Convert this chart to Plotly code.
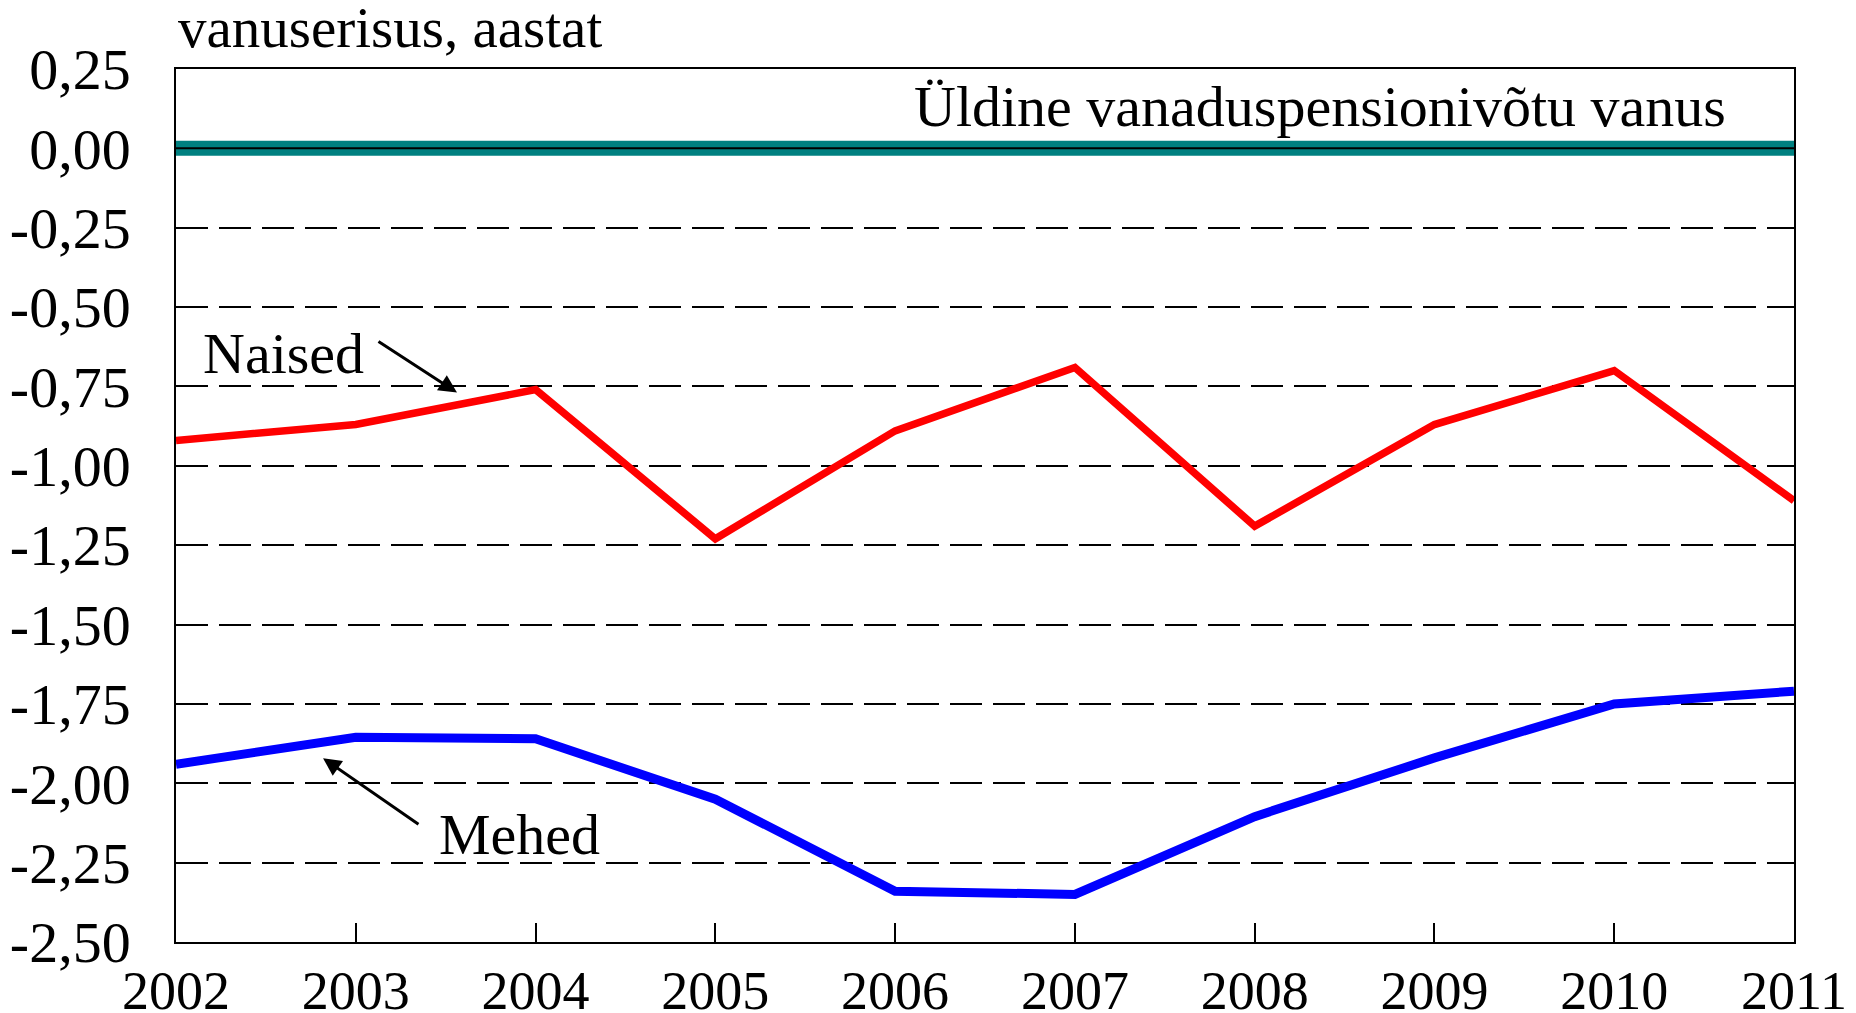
import plotly.graph_objects as go

years = [2002, 2003, 2004, 2005, 2006, 2007, 2008, 2009, 2010, 2011]
naised = [-0.92, -0.87, -0.76, -1.23, -0.89, -0.69, -1.19, -0.87, -0.70, -1.11]
mehed = [-1.94, -1.855, -1.86, -2.05, -2.34, -2.35, -2.105, -1.92, -1.75, -1.71]
yldine = [0.0] * len(years)

y_tickvals = [0.25, 0.0, -0.25, -0.5, -0.75, -1.0, -1.25, -1.5, -1.75, -2.0, -2.25, -2.5]
y_ticktext = ["0,25", "0,00", "-0,25", "-0,50", "-0,75", "-1,00", "-1,25",
              "-1,50", "-1,75", "-2,00", "-2,25", "-2,50"]
x_tickvals = years
x_ticktext = [str(y) for y in years]

FONT = "Liberation Serif, Times New Roman, serif"

fig = go.Figure()
fig.add_trace(go.Scatter(x=years, y=yldine, mode="lines",
                         line=dict(color="#008080", width=15), hoverinfo="skip",
                         showlegend=False))
fig.add_trace(go.Scatter(x=years, y=yldine, mode="lines",
                         line=dict(color="#000000", width=2), hoverinfo="skip",
                         showlegend=False))
fig.add_trace(go.Scatter(x=years, y=naised, mode="lines", name="Naised",
                         line=dict(color="#ff0000", width=7.5), showlegend=False))
fig.add_trace(go.Scatter(x=years, y=mehed, mode="lines", name="Mehed",
                         line=dict(color="#0000ff", width=9), showlegend=False))

annotations = [
    dict(text="vanuserisus, aastat", xref="paper", yref="paper", x=0, y=1,
         xanchor="left", yanchor="bottom", yshift=8, showarrow=False,
         font=dict(size=57, color="black", family=FONT)),
    dict(text="Üldine vanaduspensionivõtu vanus", xref="x", yref="y",
         x=2010.632, y=0.132, xanchor="right", yanchor="middle", showarrow=False,
         font=dict(size=58, color="black", family=FONT)),
    dict(text="Naised", xref="x", yref="y", x=2002.598, y=-0.646,
         xanchor="center", yanchor="middle", showarrow=False,
         font=dict(size=58, color="black", family=FONT)),
    dict(text="Mehed", xref="x", yref="y", x=2003.913, y=-2.16,
         xanchor="center", yanchor="middle", showarrow=False,
         font=dict(size=58, color="black", family=FONT)),
    dict(text="", xref="x", yref="y", x=2003.563, y=-0.769,
         axref="x", ayref="y", ax=2003.118, ay=-0.605, showarrow=True,
         arrowhead=2, arrowsize=1.2, arrowwidth=3, arrowcolor="black"),
    dict(text="", xref="x", yref="y", x=2002.818, y=-1.921,
         axref="x", ayref="y", ax=2003.357, ay=-2.132, showarrow=True,
         arrowhead=2, arrowsize=1.2, arrowwidth=3, arrowcolor="black"),
]

fig.update_layout(
    width=1856, height=1013,
    margin=dict(l=168, r=70, t=61, b=79, autoexpand=False),
    paper_bgcolor="white", plot_bgcolor="white",
    font=dict(family=FONT, color="black"),
    annotations=annotations,
    showlegend=False,
)
fig.update_xaxes(
    range=[2002, 2011], tickvals=x_tickvals, ticktext=x_ticktext,
    ticks="inside", ticklen=19, tickwidth=1.5, tickcolor="black",
    showgrid=False, zeroline=False,
    showline=True, linecolor="black", linewidth=1.5, mirror=True,
    tickfont=dict(size=54, family=FONT, color="black"),
    ticklabelstandoff=0,
)
fig.update_yaxes(
    range=[-2.5, 0.25], tickvals=y_tickvals, ticktext=y_ticktext,
    ticks="", showgrid=True, gridcolor="black", gridwidth=2,
    griddash="32px,11px", zeroline=False,
    showline=True, linecolor="black", linewidth=1.5, mirror=True,
    tickfont=dict(size=58, family=FONT, color="black"),
    ticklabelstandoff=32,
)

fig.write_html("out.html")
